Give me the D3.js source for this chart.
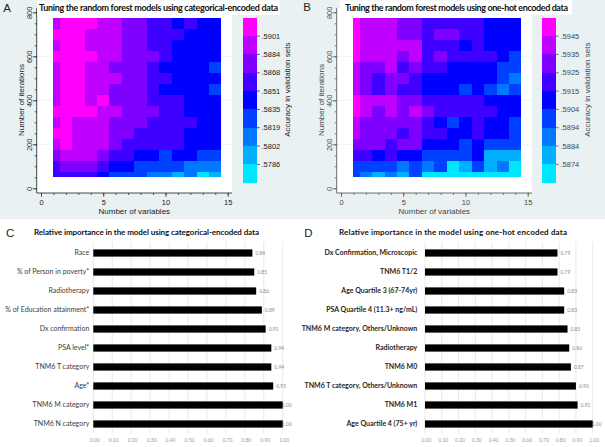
<!DOCTYPE html>
<html><head><meta charset="utf-8">
<script src="https://cdn.jsdelivr.net/npm/d3@7/dist/d3.min.js"></script>
<style>html,body{margin:0;padding:0;background:#fff}svg{display:block}</style>
</head><body>
<svg id="chart" width="605" height="447"></svg>
<script>
// ---------------- DATA ----------------
const variables = [1,2,3,4,5,6,7,8,9,10,11,12,13,14];
const iterations = [750,700,650,600,550,500,450,400,350,300,250,200,150,100,50];

// Accuracy in validation sets, categorical-encoded (rows follow `iterations`, columns follow `variables`)
const accuracyCategorical = [
  [.5892,.5909,.5909,.5909,.5892,.5892,.5876,.5876,.5860,.5860,.5843,.5860,.5843,.5843],
  [.5909,.5909,.5909,.5892,.5892,.5892,.5876,.5876,.5860,.5860,.5860,.5843,.5843,.5843],
  [.5892,.5909,.5909,.5892,.5892,.5892,.5876,.5876,.5860,.5860,.5843,.5843,.5843,.5843],
  [.5909,.5909,.5909,.5909,.5892,.5892,.5876,.5876,.5876,.5860,.5843,.5843,.5843,.5843],
  [.5892,.5909,.5909,.5892,.5892,.5876,.5876,.5876,.5860,.5843,.5843,.5843,.5843,.5827],
  [.5892,.5909,.5909,.5892,.5892,.5892,.5876,.5876,.5860,.5860,.5843,.5843,.5843,.5843],
  [.5892,.5909,.5909,.5892,.5892,.5876,.5876,.5876,.5860,.5843,.5843,.5843,.5843,.5827],
  [.5892,.5909,.5909,.5892,.5909,.5876,.5876,.5876,.5860,.5860,.5860,.5843,.5843,.5843],
  [.5909,.5909,.5909,.5909,.5892,.5892,.5876,.5876,.5876,.5860,.5860,.5843,.5843,.5843],
  [.5892,.5909,.5892,.5892,.5892,.5876,.5876,.5876,.5860,.5860,.5860,.5860,.5843,.5843],
  [.5909,.5909,.5892,.5892,.5892,.5876,.5876,.5860,.5860,.5860,.5860,.5843,.5843,.5843],
  [.5892,.5909,.5892,.5892,.5892,.5876,.5860,.5860,.5860,.5860,.5860,.5843,.5843,.5843],
  [.5876,.5892,.5892,.5892,.5876,.5860,.5860,.5843,.5843,.5827,.5843,.5843,.5827,.5827],
  [.5860,.5876,.5876,.5876,.5860,.5843,.5843,.5827,.5827,.5827,.5827,.5810,.5810,.5810],
  [.5860,.5860,.5860,.5860,.5843,.5827,.5827,.5827,.5810,.5810,.5794,.5810,.5778,.5794]
];

// Accuracy in validation sets, one-hot encoded
const accuracyOneHot = [
  [.5950,.5940,.5940,.5940,.5930,.5930,.5920,.5920,.5920,.5920,.5920,.5910,.5910,.5910],
  [.5950,.5940,.5940,.5940,.5930,.5930,.5920,.5930,.5930,.5920,.5920,.5910,.5910,.5910],
  [.5950,.5940,.5940,.5940,.5940,.5940,.5920,.5920,.5920,.5910,.5920,.5910,.5910,.5910],
  [.5950,.5940,.5940,.5940,.5930,.5940,.5920,.5930,.5920,.5920,.5920,.5920,.5910,.5899],
  [.5940,.5930,.5930,.5940,.5920,.5930,.5920,.5920,.5910,.5910,.5910,.5910,.5899,.5899],
  [.5940,.5930,.5920,.5930,.5930,.5920,.5910,.5910,.5910,.5910,.5910,.5910,.5899,.5889],
  [.5940,.5930,.5920,.5930,.5920,.5920,.5910,.5910,.5910,.5899,.5910,.5899,.5889,.5899],
  [.5950,.5940,.5940,.5940,.5930,.5930,.5920,.5920,.5920,.5920,.5920,.5910,.5910,.5910],
  [.5950,.5940,.5930,.5940,.5930,.5940,.5930,.5920,.5920,.5920,.5920,.5920,.5910,.5910],
  [.5940,.5930,.5930,.5930,.5930,.5930,.5920,.5910,.5899,.5910,.5920,.5910,.5910,.5899],
  [.5940,.5930,.5930,.5930,.5920,.5930,.5920,.5920,.5910,.5910,.5920,.5910,.5910,.5899],
  [.5930,.5930,.5930,.5920,.5930,.5930,.5910,.5910,.5910,.5899,.5910,.5899,.5899,.5899],
  [.5920,.5920,.5910,.5920,.5910,.5910,.5899,.5899,.5899,.5899,.5910,.5879,.5879,.5879],
  [.5899,.5899,.5899,.5899,.5889,.5899,.5889,.5899,.5869,.5879,.5899,.5879,.5889,.5869],
  [.5899,.5889,.5879,.5889,.5879,.5899,.5869,.5869,.5869,.5869,.5869,.5869,.5869,.5869]
];

const keyCutsCategorical = [.5786,.5802,.5819,.5835,.5851,.5868,.5884,.5901];
const keyCutsOneHot = [.5874,.5884,.5894,.5904,.5915,.5925,.5935,.5945];
const keyColors = ["#00E6FF","#00B0FF","#0078FF","#0040FF","#0000FF","#4000FF","#8000FF","#C000FF","#FF00FF"];

const heatXTicks = [0,5,10,15];
const heatYTicks = [0,200,400,600,800];

const featuresCategorical = ["Race","% of Person in poverty*","Radiotherapy","% of Education attainment*","Dx confirmation","PSA level*","TNM6 T category","Age*","TNM6 M category","TNM6 N category"];
const importanceCategorical = [0.84,0.85,0.86,0.89,0.91,0.94,0.94,0.95,1.00,1.00];

const featuresOneHot = ["Dx Confirmation, Microscopic","TNM6 T1/2","Age Quartile 3 (67-74yr)","PSA Quartile 4 (11.3+ ng/mL)","TNM6 M category, Others/Unknown","Radiotherapy","TNM6 M0","TNM6 T category, Others/Unknown","TNM6 M1","Age Quartile 4 (75+ yr)"];
const importanceOneHot = [0.79,0.79,0.83,0.83,0.85,0.86,0.87,0.90,0.91,1.00];

const importanceTicks = [0,0.1,0.2,0.3,0.4,0.5,0.6,0.7,0.8,0.9,1.0];

// ---------------- DRAWING ----------------
const svg = d3.select("#chart");
const FS = "'Liberation Sans', Arial, sans-serif";
const FC = "Lato, 'Open Sans', sans-serif";
const BG = "#EAF1F3";
const R = Math.round;

svg.append("rect").attr("width",605).attr("height",447).attr("fill","#fff");

function drawHeat(cfg){
  const ox = cfg.ox;
  const g = svg.append("g");
  g.append("rect").attr("x",ox).attr("y",0).attr("width",cfg.w).attr("height",219).attr("fill",BG);
  g.append("rect").attr("x",ox+36.7).attr("y",7.8).attr("width",195.3).attr("height",185.2).attr("fill","#fff");

  const x = d3.scaleLinear().domain([0,15]).range([ox+41, ox+227.7]);
  const y = d3.scaleLinear().domain([0,800]).range([188.3, 12.3]);
  const color = d3.scaleThreshold().domain(cfg.cuts).range(keyColors);

  // grid
  g.selectAll(null).data([200,400,600]).join("line")
    .attr("x1",ox+36.7).attr("x2",ox+232).attr("y1",d=>y(d)).attr("y2",d=>y(d))
    .attr("stroke",BG).attr("stroke-width",0.8);

  const vMin = d3.min(variables), itMin = d3.min(iterations);
  const cells = [];
  iterations.forEach((it,i)=>variables.forEach((v,j)=>cells.push({it,v,acc:cfg.data[i][j]})));
  const cx0 = d=>R(x(Math.max(d.v-0.5,vMin))), cx1 = d=>R(x(d.v+0.5));
  const cy0 = d=>R(y(d.it+25)), cy1 = d=>R(y(Math.max(d.it-25,itMin)));
  g.append("g").attr("shape-rendering","crispEdges").selectAll("rect").data(cells).join("rect")
    .attr("x",cx0).attr("width",d=>cx1(d)-cx0(d))
    .attr("y",cy0).attr("height",d=>cy1(d)-cy0(d))
    .attr("fill",d=>color(d.acc));

  // axes lines
  g.append("line").attr("x1",ox+36.7).attr("x2",ox+232).attr("y1",193).attr("y2",193).attr("stroke",cfg.ink).attr("stroke-width",0.8);
  g.append("line").attr("x1",ox+36.7).attr("x2",ox+36.7).attr("y1",7.8).attr("y2",193).attr("stroke",cfg.ink).attr("stroke-width",0.8);

  const xa = g.append("g").attr("transform","translate(0,193)")
    .call(d3.axisBottom(x).tickValues(heatXTicks).tickSize(4).tickPadding(2.5).tickFormat(d3.format("d")));
  const xm = g.append("g").attr("transform","translate(0,193)")
    .call(d3.axisBottom(x).tickValues(d3.range(0,16)).tickSize(2).tickFormat(""));
  const ya = g.append("g").attr("transform",`translate(${ox+36.7},0)`)
    .call(d3.axisLeft(y).tickValues(heatYTicks).tickSize(4).tickFormat(d3.format("d")));
  const ym = g.append("g").attr("transform",`translate(${ox+36.7},0)`)
    .call(d3.axisLeft(y).tickValues(d3.range(0,801,50)).tickSize(2).tickFormat(""));
  [xa,xm,ya,ym].forEach(a=>{
    a.select(".domain").remove();
    a.selectAll("line").attr("stroke",cfg.ink).attr("stroke-width",0.7);
    a.selectAll("text").attr("font-family",FS).attr("font-size",7.5).attr("fill",cfg.ink);
  });
  ya.selectAll("text").attr("x",null).attr("dy",null).attr("text-anchor","middle")
    .attr("transform","translate(-5,0) rotate(-90)");

  // axis titles
  g.append("text").attr("x",ox+134.3).attr("y",213.5).attr("text-anchor","middle")
    .attr("font-family",FS).attr("font-size",8).attr("fill",cfg.ink).text("Number of variables");
  g.append("text").attr("transform",`translate(${ox+23.8},100) rotate(-90)`).attr("text-anchor","middle")
    .attr("font-family",FS).attr("font-size",8).attr("fill",cfg.ink).text("Number of iterations");

  // colour key
  const ky = d3.scaleLinear().domain([0,keyColors.length]).range([182.7,17.8]);
  const kx = ox+cfg.keyX;
  g.append("g").attr("shape-rendering","crispEdges").selectAll("rect").data(keyColors).join("rect")
    .attr("x",R(kx)).attr("width",14).attr("y",(d,i)=>R(ky(i+1))).attr("height",(d,i)=>R(ky(i))-R(ky(i+1)))
    .attr("fill",d=>d);
  const fmt = v=>d3.format(".4f")(v).replace(/^0/,"");
  const kt = g.append("g").selectAll("g").data(cfg.cuts).join("g")
    .attr("transform",(d,i)=>`translate(${R(kx)+14},${ky(i+1)})`);
  kt.append("line").attr("x1",0).attr("x2",2.8).attr("stroke",cfg.ink).attr("stroke-width",0.7);
  kt.append("text").attr("x",4.5).attr("dy","0.35em").attr("font-family",FS).attr("font-size",7.5)
    .attr("fill",cfg.ink).text(d=>fmt(d));
  g.append("text").attr("transform",`translate(${kx+47.5},89.7) rotate(-90)`).attr("text-anchor","middle")
    .attr("font-family",FS).attr("font-size",8).attr("fill",cfg.ink).text("Accuracy in validation sets");

  // title box and title
  g.append("rect").attr("x",ox+cfg.tbx).attr("y",0.5).attr("width",cfg.tbw).attr("height",14.5).attr("fill","#fff");
  g.append("text").attr("x",ox+cfg.tx).attr("y",10.8).attr("font-family",FC).attr("font-weight",700)
    .attr("font-size",9).attr("fill","#111").attr("textLength",cfg.tl).text(cfg.title);
  g.append("text").attr("x",ox+3.3).attr("y",cfg.ly).attr("font-family",FS).attr("font-size",11.5)
    .attr("fill","#222").text(cfg.letter);
}

drawHeat({ox:0,w:300,data:accuracyCategorical,cuts:keyCutsCategorical,ink:"#1c1c1c",keyX:242.7,
  tbx:37,tbw:243,tx:39,tl:239,title:"Tuning the random forest models using categorical-encoded data",letter:"A",ly:11.7});
drawHeat({ox:300,w:305,data:accuracyOneHot,cuts:keyCutsOneHot,ink:"#484848",keyX:242.3,
  tbx:40,tbw:232,tx:45,tl:223,title:"Tuning the random forest models using one-hot encoded data",letter:"B",ly:10.5});

function drawBars(cfg){
  const g = svg.append("g");
  const x = d3.scaleLinear().domain([0,1]).range([cfg.x0,cfg.x1]);
  const y = d3.scaleBand().domain(cfg.features).range([243.5,433.5]).paddingInner(0.62).paddingOuter(0.31);
  g.selectAll(null).data(importanceTicks).join("line")
    .attr("x1",d=>x(d)).attr("x2",d=>x(d)).attr("y1",241.7).attr("y2",433.3)
    .attr("stroke","#E3E3E3").attr("stroke-width",0.8);
  g.selectAll(null).data(importanceTicks).join("text")
    .attr("x",d=>x(d)+1.5).attr("y",441.7).attr("text-anchor","middle")
    .attr("font-family",FC).attr("font-size",5).attr("fill","#9a9a9a").text(d=>d3.format(".2f")(d));
  const data = cfg.features.map((f,i)=>({f,v:cfg.values[i]}));
  g.selectAll(null).data(data).join("text")
    .attr("x",d=>Math.min(x(d.v)+3,x(1)-1)).attr("y",d=>y(d.f)+y.bandwidth()/2).attr("dy","0.35em")
    .attr("font-family",FC).attr("font-size",5).attr("fill","#8c8c8c").text(d=>d3.format(".2f")(d.v));
  g.selectAll(null).data(data).join("rect")
    .attr("x",x(0)).attr("y",d=>y(d.f)).attr("width",d=>x(d.v)-x(0)).attr("height",y.bandwidth())
    .attr("fill","#000");
  g.selectAll(null).data(data).join("text")
    .attr("x",cfg.labelX).attr("y",d=>y(d.f)+y.bandwidth()/2).attr("dy","0.35em").attr("text-anchor","end")
    .attr("font-family",FC).attr("font-size",7).attr("font-weight",cfg.bold?700:400)
    .attr("fill",cfg.bold?"#262626":"#404040").text(d=>d.f);
  g.append("text").attr("x",cfg.tx).attr("y",234.5).attr("font-family",FC).attr("font-weight",700)
    .attr("font-size",8).attr("fill","#111").attr("textLength",cfg.tl).text(cfg.title);
  g.append("text").attr("x",cfg.lx).attr("y",236.7).attr("font-family",FS).attr("font-size",11.5)
    .attr("fill","#222").text(cfg.letter);
}

drawBars({features:featuresCategorical,values:importanceCategorical,x0:93.3,x1:282.7,labelX:89.3,bold:false,
  tx:34,tl:225,title:"Relative importance in the model using categorical-encoded data",lx:6,letter:"C"});
drawBars({features:featuresOneHot,values:importanceOneHot,x0:425,x1:592.7,labelX:417.3,bold:true,
  tx:339,tl:228,title:"Relative importance in the model using one-hot encoded data",lx:304.3,letter:"D"});
</script>
</body></html>
